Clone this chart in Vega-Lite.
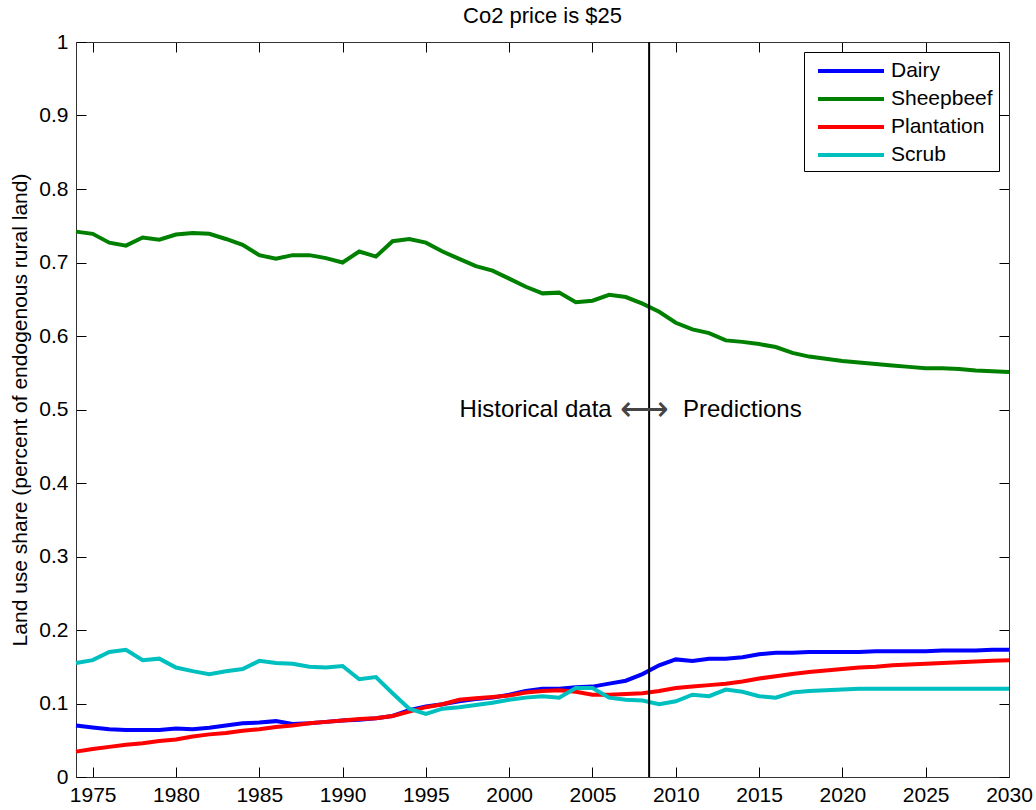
{
  "$schema": "https://vega.github.io/schema/vega-lite/v6.json",
  "width": 933,
  "height": 735,
  "padding": {"left": 9, "top": 5, "right": 5, "bottom": 0},
  "background": "white",
  "title": {"text": "Co2 price is $25", "fontSize": 22, "fontWeight": "normal", "font": "Liberation Sans", "color": "black", "offset": 3},
  "config": {
    "view": {"stroke": "black", "strokeWidth": 1},
    "font": "Liberation Sans",
    "axis": {
      "grid": false,
      "tickSize": -10,
      "tickColor": "black",
      "domainColor": "#333333",
      "labelFont": "Liberation Sans",
      "labelFontSize": 21,
      "labelColor": "black",
      "labelFlush": false,
      "labelOverlap": false,
      "titleFont": "Liberation Sans",
      "titleFontSize": 21,
      "titleFontWeight": "normal",
      "titleColor": "black"
    },
    "legend": {
      "orient": "none",
      "legendX": 728,
      "legendY": 10,
      "strokeColor": "black",
      "fillColor": "white",
      "padding": 6,
      "symbolType": "M-3,0H3",
      "symbolSize": 484,
      "symbolStrokeWidth": 4,
      "symbolOffset": 28,
      "labelOffset": 27,
      "labelFont": "Liberation Sans",
      "labelFontSize": 21,
      "labelColor": "black",
      "rowPadding": 5
    }
  },
  "datasets": {
    "land": [
      {"year": 1974, "series": "Dairy", "value": 0.070}, {"year": 1975, "series": "Dairy", "value": 0.0675}, {"year": 1976, "series": "Dairy", "value": 0.065}, {"year": 1977, "series": "Dairy", "value": 0.064}, {"year": 1978, "series": "Dairy", "value": 0.064}, {"year": 1979, "series": "Dairy", "value": 0.064}, {"year": 1980, "series": "Dairy", "value": 0.066}, {"year": 1981, "series": "Dairy", "value": 0.065}, {"year": 1982, "series": "Dairy", "value": 0.067}, {"year": 1983, "series": "Dairy", "value": 0.070}, {"year": 1984, "series": "Dairy", "value": 0.073}, {"year": 1985, "series": "Dairy", "value": 0.074}, {"year": 1986, "series": "Dairy", "value": 0.076}, {"year": 1987, "series": "Dairy", "value": 0.072}, {"year": 1988, "series": "Dairy", "value": 0.073}, {"year": 1989, "series": "Dairy", "value": 0.075}, {"year": 1990, "series": "Dairy", "value": 0.077}, {"year": 1991, "series": "Dairy", "value": 0.078}, {"year": 1992, "series": "Dairy", "value": 0.080}, {"year": 1993, "series": "Dairy", "value": 0.083}, {"year": 1994, "series": "Dairy", "value": 0.091}, {"year": 1995, "series": "Dairy", "value": 0.096}, {"year": 1996, "series": "Dairy", "value": 0.099}, {"year": 1997, "series": "Dairy", "value": 0.103}, {"year": 1998, "series": "Dairy", "value": 0.106}, {"year": 1999, "series": "Dairy", "value": 0.108}, {"year": 2000, "series": "Dairy", "value": 0.112}, {"year": 2001, "series": "Dairy", "value": 0.117}, {"year": 2002, "series": "Dairy", "value": 0.120}, {"year": 2003, "series": "Dairy", "value": 0.120}, {"year": 2004, "series": "Dairy", "value": 0.122}, {"year": 2005, "series": "Dairy", "value": 0.123}, {"year": 2006, "series": "Dairy", "value": 0.127}, {"year": 2007, "series": "Dairy", "value": 0.131}, {"year": 2008, "series": "Dairy", "value": 0.140}, {"year": 2009, "series": "Dairy", "value": 0.152}, {"year": 2010, "series": "Dairy", "value": 0.160}, {"year": 2011, "series": "Dairy", "value": 0.158}, {"year": 2012, "series": "Dairy", "value": 0.161}, {"year": 2013, "series": "Dairy", "value": 0.161}, {"year": 2014, "series": "Dairy", "value": 0.163}, {"year": 2015, "series": "Dairy", "value": 0.167}, {"year": 2016, "series": "Dairy", "value": 0.169}, {"year": 2017, "series": "Dairy", "value": 0.169}, {"year": 2018, "series": "Dairy", "value": 0.170}, {"year": 2019, "series": "Dairy", "value": 0.170}, {"year": 2020, "series": "Dairy", "value": 0.170}, {"year": 2021, "series": "Dairy", "value": 0.170}, {"year": 2022, "series": "Dairy", "value": 0.171}, {"year": 2023, "series": "Dairy", "value": 0.171}, {"year": 2024, "series": "Dairy", "value": 0.171}, {"year": 2025, "series": "Dairy", "value": 0.171}, {"year": 2026, "series": "Dairy", "value": 0.172}, {"year": 2027, "series": "Dairy", "value": 0.172}, {"year": 2028, "series": "Dairy", "value": 0.172}, {"year": 2029, "series": "Dairy", "value": 0.173}, {"year": 2030, "series": "Dairy", "value": 0.173},
      {"year": 1974, "series": "Sheepbeef", "value": 0.742}, {"year": 1975, "series": "Sheepbeef", "value": 0.739}, {"year": 1976, "series": "Sheepbeef", "value": 0.727}, {"year": 1977, "series": "Sheepbeef", "value": 0.723}, {"year": 1978, "series": "Sheepbeef", "value": 0.734}, {"year": 1979, "series": "Sheepbeef", "value": 0.731}, {"year": 1980, "series": "Sheepbeef", "value": 0.738}, {"year": 1981, "series": "Sheepbeef", "value": 0.740}, {"year": 1982, "series": "Sheepbeef", "value": 0.739}, {"year": 1983, "series": "Sheepbeef", "value": 0.732}, {"year": 1984, "series": "Sheepbeef", "value": 0.724}, {"year": 1985, "series": "Sheepbeef", "value": 0.710}, {"year": 1986, "series": "Sheepbeef", "value": 0.705}, {"year": 1987, "series": "Sheepbeef", "value": 0.710}, {"year": 1988, "series": "Sheepbeef", "value": 0.710}, {"year": 1989, "series": "Sheepbeef", "value": 0.706}, {"year": 1990, "series": "Sheepbeef", "value": 0.700}, {"year": 1991, "series": "Sheepbeef", "value": 0.715}, {"year": 1992, "series": "Sheepbeef", "value": 0.708}, {"year": 1993, "series": "Sheepbeef", "value": 0.729}, {"year": 1994, "series": "Sheepbeef", "value": 0.732}, {"year": 1995, "series": "Sheepbeef", "value": 0.727}, {"year": 1996, "series": "Sheepbeef", "value": 0.715}, {"year": 1997, "series": "Sheepbeef", "value": 0.705}, {"year": 1998, "series": "Sheepbeef", "value": 0.695}, {"year": 1999, "series": "Sheepbeef", "value": 0.689}, {"year": 2000, "series": "Sheepbeef", "value": 0.678}, {"year": 2001, "series": "Sheepbeef", "value": 0.667}, {"year": 2002, "series": "Sheepbeef", "value": 0.658}, {"year": 2003, "series": "Sheepbeef", "value": 0.659}, {"year": 2004, "series": "Sheepbeef", "value": 0.646}, {"year": 2005, "series": "Sheepbeef", "value": 0.648}, {"year": 2006, "series": "Sheepbeef", "value": 0.656}, {"year": 2007, "series": "Sheepbeef", "value": 0.653}, {"year": 2008, "series": "Sheepbeef", "value": 0.644}, {"year": 2009, "series": "Sheepbeef", "value": 0.633}, {"year": 2010, "series": "Sheepbeef", "value": 0.618}, {"year": 2011, "series": "Sheepbeef", "value": 0.609}, {"year": 2012, "series": "Sheepbeef", "value": 0.604}, {"year": 2013, "series": "Sheepbeef", "value": 0.594}, {"year": 2014, "series": "Sheepbeef", "value": 0.592}, {"year": 2015, "series": "Sheepbeef", "value": 0.589}, {"year": 2016, "series": "Sheepbeef", "value": 0.585}, {"year": 2017, "series": "Sheepbeef", "value": 0.577}, {"year": 2018, "series": "Sheepbeef", "value": 0.572}, {"year": 2019, "series": "Sheepbeef", "value": 0.569}, {"year": 2020, "series": "Sheepbeef", "value": 0.566}, {"year": 2021, "series": "Sheepbeef", "value": 0.564}, {"year": 2022, "series": "Sheepbeef", "value": 0.562}, {"year": 2023, "series": "Sheepbeef", "value": 0.560}, {"year": 2024, "series": "Sheepbeef", "value": 0.558}, {"year": 2025, "series": "Sheepbeef", "value": 0.556}, {"year": 2026, "series": "Sheepbeef", "value": 0.556}, {"year": 2027, "series": "Sheepbeef", "value": 0.555}, {"year": 2028, "series": "Sheepbeef", "value": 0.553}, {"year": 2029, "series": "Sheepbeef", "value": 0.552}, {"year": 2030, "series": "Sheepbeef", "value": 0.551},
      {"year": 1974, "series": "Plantation", "value": 0.0345}, {"year": 1975, "series": "Plantation", "value": 0.038}, {"year": 1976, "series": "Plantation", "value": 0.041}, {"year": 1977, "series": "Plantation", "value": 0.044}, {"year": 1978, "series": "Plantation", "value": 0.046}, {"year": 1979, "series": "Plantation", "value": 0.049}, {"year": 1980, "series": "Plantation", "value": 0.051}, {"year": 1981, "series": "Plantation", "value": 0.055}, {"year": 1982, "series": "Plantation", "value": 0.058}, {"year": 1983, "series": "Plantation", "value": 0.060}, {"year": 1984, "series": "Plantation", "value": 0.063}, {"year": 1985, "series": "Plantation", "value": 0.065}, {"year": 1986, "series": "Plantation", "value": 0.068}, {"year": 1987, "series": "Plantation", "value": 0.070}, {"year": 1988, "series": "Plantation", "value": 0.073}, {"year": 1989, "series": "Plantation", "value": 0.075}, {"year": 1990, "series": "Plantation", "value": 0.077}, {"year": 1991, "series": "Plantation", "value": 0.079}, {"year": 1992, "series": "Plantation", "value": 0.080}, {"year": 1993, "series": "Plantation", "value": 0.083}, {"year": 1994, "series": "Plantation", "value": 0.089}, {"year": 1995, "series": "Plantation", "value": 0.095}, {"year": 1996, "series": "Plantation", "value": 0.099}, {"year": 1997, "series": "Plantation", "value": 0.105}, {"year": 1998, "series": "Plantation", "value": 0.107}, {"year": 1999, "series": "Plantation", "value": 0.109}, {"year": 2000, "series": "Plantation", "value": 0.111}, {"year": 2001, "series": "Plantation", "value": 0.115}, {"year": 2002, "series": "Plantation", "value": 0.117}, {"year": 2003, "series": "Plantation", "value": 0.118}, {"year": 2004, "series": "Plantation", "value": 0.116}, {"year": 2005, "series": "Plantation", "value": 0.112}, {"year": 2006, "series": "Plantation", "value": 0.112}, {"year": 2007, "series": "Plantation", "value": 0.113}, {"year": 2008, "series": "Plantation", "value": 0.114}, {"year": 2009, "series": "Plantation", "value": 0.117}, {"year": 2010, "series": "Plantation", "value": 0.121}, {"year": 2011, "series": "Plantation", "value": 0.123}, {"year": 2012, "series": "Plantation", "value": 0.125}, {"year": 2013, "series": "Plantation", "value": 0.127}, {"year": 2014, "series": "Plantation", "value": 0.130}, {"year": 2015, "series": "Plantation", "value": 0.134}, {"year": 2016, "series": "Plantation", "value": 0.137}, {"year": 2017, "series": "Plantation", "value": 0.140}, {"year": 2018, "series": "Plantation", "value": 0.143}, {"year": 2019, "series": "Plantation", "value": 0.145}, {"year": 2020, "series": "Plantation", "value": 0.147}, {"year": 2021, "series": "Plantation", "value": 0.149}, {"year": 2022, "series": "Plantation", "value": 0.150}, {"year": 2023, "series": "Plantation", "value": 0.152}, {"year": 2024, "series": "Plantation", "value": 0.153}, {"year": 2025, "series": "Plantation", "value": 0.154}, {"year": 2026, "series": "Plantation", "value": 0.155}, {"year": 2027, "series": "Plantation", "value": 0.156}, {"year": 2028, "series": "Plantation", "value": 0.157}, {"year": 2029, "series": "Plantation", "value": 0.158}, {"year": 2030, "series": "Plantation", "value": 0.159},
      {"year": 1974, "series": "Scrub", "value": 0.155}, {"year": 1975, "series": "Scrub", "value": 0.159}, {"year": 1976, "series": "Scrub", "value": 0.170}, {"year": 1977, "series": "Scrub", "value": 0.173}, {"year": 1978, "series": "Scrub", "value": 0.159}, {"year": 1979, "series": "Scrub", "value": 0.161}, {"year": 1980, "series": "Scrub", "value": 0.149}, {"year": 1981, "series": "Scrub", "value": 0.144}, {"year": 1982, "series": "Scrub", "value": 0.140}, {"year": 1983, "series": "Scrub", "value": 0.144}, {"year": 1984, "series": "Scrub", "value": 0.147}, {"year": 1985, "series": "Scrub", "value": 0.158}, {"year": 1986, "series": "Scrub", "value": 0.155}, {"year": 1987, "series": "Scrub", "value": 0.154}, {"year": 1988, "series": "Scrub", "value": 0.150}, {"year": 1989, "series": "Scrub", "value": 0.149}, {"year": 1990, "series": "Scrub", "value": 0.151}, {"year": 1991, "series": "Scrub", "value": 0.133}, {"year": 1992, "series": "Scrub", "value": 0.136}, {"year": 1993, "series": "Scrub", "value": 0.114}, {"year": 1994, "series": "Scrub", "value": 0.093}, {"year": 1995, "series": "Scrub", "value": 0.086}, {"year": 1996, "series": "Scrub", "value": 0.093}, {"year": 1997, "series": "Scrub", "value": 0.095}, {"year": 1998, "series": "Scrub", "value": 0.098}, {"year": 1999, "series": "Scrub", "value": 0.101}, {"year": 2000, "series": "Scrub", "value": 0.105}, {"year": 2001, "series": "Scrub", "value": 0.108}, {"year": 2002, "series": "Scrub", "value": 0.110}, {"year": 2003, "series": "Scrub", "value": 0.108}, {"year": 2004, "series": "Scrub", "value": 0.121}, {"year": 2005, "series": "Scrub", "value": 0.121}, {"year": 2006, "series": "Scrub", "value": 0.108}, {"year": 2007, "series": "Scrub", "value": 0.105}, {"year": 2008, "series": "Scrub", "value": 0.104}, {"year": 2009, "series": "Scrub", "value": 0.099}, {"year": 2010, "series": "Scrub", "value": 0.103}, {"year": 2011, "series": "Scrub", "value": 0.112}, {"year": 2012, "series": "Scrub", "value": 0.110}, {"year": 2013, "series": "Scrub", "value": 0.119}, {"year": 2014, "series": "Scrub", "value": 0.116}, {"year": 2015, "series": "Scrub", "value": 0.110}, {"year": 2016, "series": "Scrub", "value": 0.108}, {"year": 2017, "series": "Scrub", "value": 0.115}, {"year": 2018, "series": "Scrub", "value": 0.117}, {"year": 2019, "series": "Scrub", "value": 0.118}, {"year": 2020, "series": "Scrub", "value": 0.119}, {"year": 2021, "series": "Scrub", "value": 0.120}, {"year": 2022, "series": "Scrub", "value": 0.120}, {"year": 2023, "series": "Scrub", "value": 0.120}, {"year": 2024, "series": "Scrub", "value": 0.120}, {"year": 2025, "series": "Scrub", "value": 0.120}, {"year": 2026, "series": "Scrub", "value": 0.120}, {"year": 2027, "series": "Scrub", "value": 0.120}, {"year": 2028, "series": "Scrub", "value": 0.120}, {"year": 2029, "series": "Scrub", "value": 0.120}, {"year": 2030, "series": "Scrub", "value": 0.120}
    ],
    "divider": [{"year": 2008.4}],
    "notes": [
      {"year": 2006.15, "value": 0.5, "label": "Historical data"},
      {"year": 2008.15, "value": 0.5, "label": "⟷"},
      {"year": 2010.43, "value": 0.5, "label": "Predictions"}
    ]
  },
  "resolve": {"axis": {"x": "independent", "y": "independent"}},
  "layer": [
    {
      "data": {"name": "land"},
      "mark": {"type": "line", "strokeWidth": 4},
      "encoding": {
        "x": {"field": "year", "type": "quantitative", "scale": {"domain": [1974, 2030], "nice": false, "zero": false},
              "axis": {"orient": "bottom", "title": null, "values": [1975, 1980, 1985, 1990, 1995, 2000, 2005, 2010, 2015, 2020, 2025, 2030], "format": "d", "labelPadding": 17}},
        "y": {"field": "value", "type": "quantitative", "scale": {"domain": [0, 1], "nice": false},
              "axis": {"orient": "left", "title": "Land use share (percent of endogenous rural land)", "values": [0, 0.1, 0.2, 0.3, 0.4, 0.5, 0.6, 0.7, 0.8, 0.9, 1], "format": "~g", "labelPadding": 18, "titlePadding": 8}},
        "color": {"field": "series", "type": "nominal",
                  "scale": {"domain": ["Dairy", "Sheepbeef", "Plantation", "Scrub"], "range": ["#0000ff", "#008000", "#ff0000", "#00bfbf"]},
                  "legend": {"title": null}}
      }
    },
    {
      "data": {"name": "land"},
      "mark": {"type": "point", "opacity": 0},
      "encoding": {
        "x": {"field": "year", "type": "quantitative", "axis": {"orient": "top", "title": null, "labels": false, "values": [1975, 1980, 1985, 1990, 1995, 2000, 2005, 2010, 2015, 2020, 2025, 2030]}},
        "y": {"field": "value", "type": "quantitative", "axis": {"orient": "right", "title": null, "labels": false, "values": [0, 0.1, 0.2, 0.3, 0.4, 0.5, 0.6, 0.7, 0.8, 0.9, 1]}}
      }
    },
    {
      "data": {"name": "divider"},
      "mark": {"type": "rule", "color": "black", "strokeWidth": 2},
      "encoding": {
        "x": {"field": "year", "type": "quantitative", "axis": null}
      }
    },
    {
      "data": {"name": "notes"},
      "transform": [{"filter": "datum.label == 'Historical data'"}],
      "mark": {"type": "text", "align": "right", "baseline": "middle", "fontSize": 24, "font": "Liberation Sans", "color": "black"},
      "encoding": {
        "x": {"field": "year", "type": "quantitative", "axis": null},
        "y": {"field": "value", "type": "quantitative", "axis": null},
        "text": {"field": "label"}
      }
    },
    {
      "data": {"name": "notes"},
      "transform": [{"filter": "datum.label == '⟷'"}],
      "mark": {"type": "text", "align": "center", "baseline": "middle", "fontSize": 34, "font": "Noto Sans", "color": "#444444"},
      "encoding": {
        "x": {"field": "year", "type": "quantitative", "axis": null},
        "y": {"field": "value", "type": "quantitative", "axis": null},
        "text": {"field": "label"}
      }
    },
    {
      "data": {"name": "notes"},
      "transform": [{"filter": "datum.label == 'Predictions'"}],
      "mark": {"type": "text", "align": "left", "baseline": "middle", "fontSize": 24, "font": "Liberation Sans", "color": "black"},
      "encoding": {
        "x": {"field": "year", "type": "quantitative", "axis": null},
        "y": {"field": "value", "type": "quantitative", "axis": null},
        "text": {"field": "label"}
      }
    }
  ]
}
